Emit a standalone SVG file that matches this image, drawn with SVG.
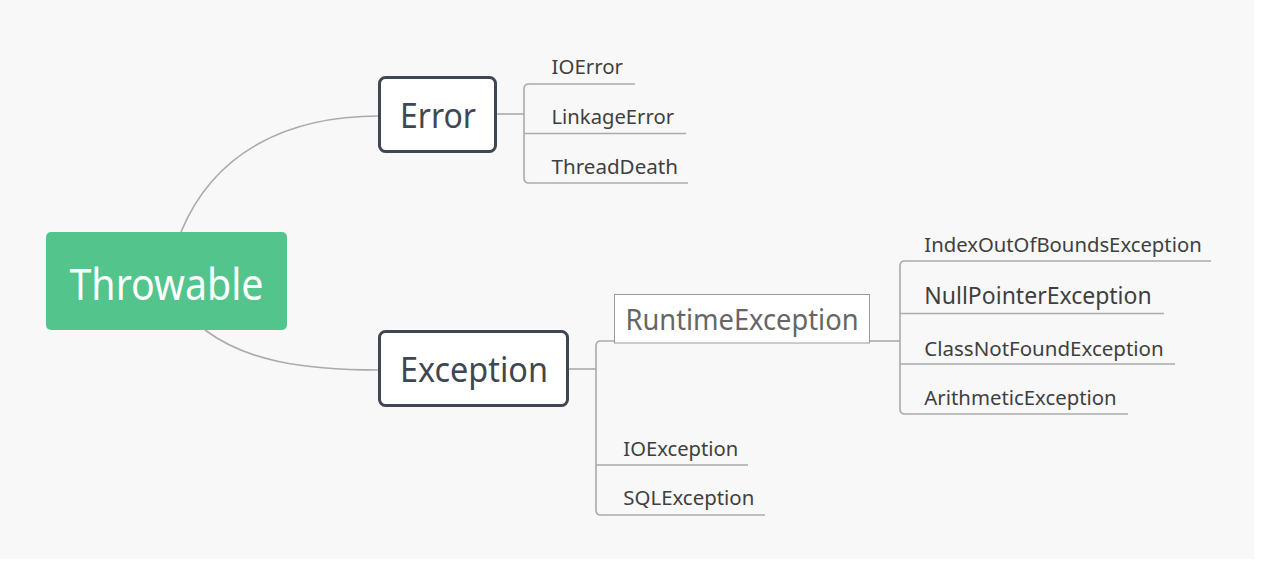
<svg xmlns="http://www.w3.org/2000/svg" width="1262" height="563" viewBox="0 0 1262 563">
<style>
.conn{fill:none;stroke:#aaaaaa;stroke-width:1.6}
.t{font-family:"Noto Sans","Open Sans",sans-serif;fill:#3f3f3f}
.main{stroke:#3e4752;stroke-width:3;fill:#ffffff}
.mt{font-family:"Noto Sans","Open Sans",sans-serif;fill:#3e4752;font-size:35px;text-anchor:middle}
</style>
<rect x="0" y="0" width="1262" height="563" fill="#ffffff"/>
<rect x="0" y="0" width="1254" height="559" fill="#f8f8f8"/>
<g id="connectors">
<path class="conn" d="M181,232 C215,150 290,116 379,116"/>
<path class="conn" d="M205,330 C245,360 300,370 379,370"/>
<path class="conn" d="M496,114 H524"/>
<path class="conn" d="M635,84 H529 Q524,84 524,89 V178 Q524,183 529,183 H688"/>
<path class="conn" d="M524,133.5 H686"/>
<path class="conn" d="M568,369 H596"/>
<path class="conn" d="M614,341 H601 Q596,341 596,346 V510 Q596,515 601,515 H765"/>
<path class="conn" d="M596,465 H748"/>
<path class="conn" d="M870,341 H900"/>
<path class="conn" d="M1211,261 H905 Q900,261 900,266 V409 Q900,414 905,414 H1128"/>
<path class="conn" d="M900,313.5 H1164"/>
<path class="conn" d="M900,364 H1175"/>
</g>
<g id="throwable">
<rect x="46" y="232" width="241" height="98" rx="5" fill="#52c48c"/>
<text x="166.5" y="300" font-family="Noto Sans, Open Sans, sans-serif" font-size="43" fill="#ffffff" text-anchor="middle" textLength="194" lengthAdjust="spacingAndGlyphs">Throwable</text>
</g>
<g id="error">
<rect class="main" x="379.5" y="77.5" width="116" height="74" rx="6"/>
<text class="mt" x="438" y="128" textLength="76" lengthAdjust="spacingAndGlyphs">Error</text>
</g>
<g id="exception">
<rect class="main" x="379.5" y="331.5" width="188" height="74" rx="6"/>
<text class="mt" x="474" y="382" textLength="148" lengthAdjust="spacingAndGlyphs">Exception</text>
</g>
<g id="ioerror"><text class="t" x="551.5" y="74" font-size="20" textLength="71.5" lengthAdjust="spacingAndGlyphs">IOError</text></g>
<g id="linkageerror"><text class="t" x="551.5" y="124" font-size="20" textLength="122.5" lengthAdjust="spacingAndGlyphs">LinkageError</text></g>
<g id="threaddeath"><text class="t" x="551.5" y="174" font-size="20" textLength="126.5" lengthAdjust="spacingAndGlyphs">ThreadDeath</text></g>
<g id="runtimeexception">
<rect x="614.5" y="294.5" width="255" height="48.5" fill="#ffffff" stroke="#9a9a9a" stroke-width="1"/>
<text x="625.5" y="330" font-family="Noto Sans, Open Sans, sans-serif" font-size="29" fill="#666666" textLength="233" lengthAdjust="spacingAndGlyphs">RuntimeException</text>
</g>
<g id="ioexception"><text class="t" x="623.3" y="455.5" font-size="20" textLength="115" lengthAdjust="spacingAndGlyphs">IOException</text></g>
<g id="sqlexception"><text class="t" x="623.3" y="505" font-size="20" textLength="131" lengthAdjust="spacingAndGlyphs">SQLException</text></g>
<g id="indexoutofbounds"><text class="t" x="924.3" y="251.5" font-size="20.5" textLength="277.4" lengthAdjust="spacingAndGlyphs">IndexOutOfBoundsException</text></g>
<g id="nullpointer"><text class="t" x="924.3" y="303.5" font-size="23.5" textLength="227.4" lengthAdjust="spacingAndGlyphs">NullPointerException</text></g>
<g id="classnotfound"><text class="t" x="924.3" y="355.5" font-size="20.5" textLength="239.4" lengthAdjust="spacingAndGlyphs">ClassNotFoundException</text></g>
<g id="arithmetic"><text class="t" x="924.3" y="405" font-size="20.5" textLength="192.4" lengthAdjust="spacingAndGlyphs">ArithmeticException</text></g>
</svg>
